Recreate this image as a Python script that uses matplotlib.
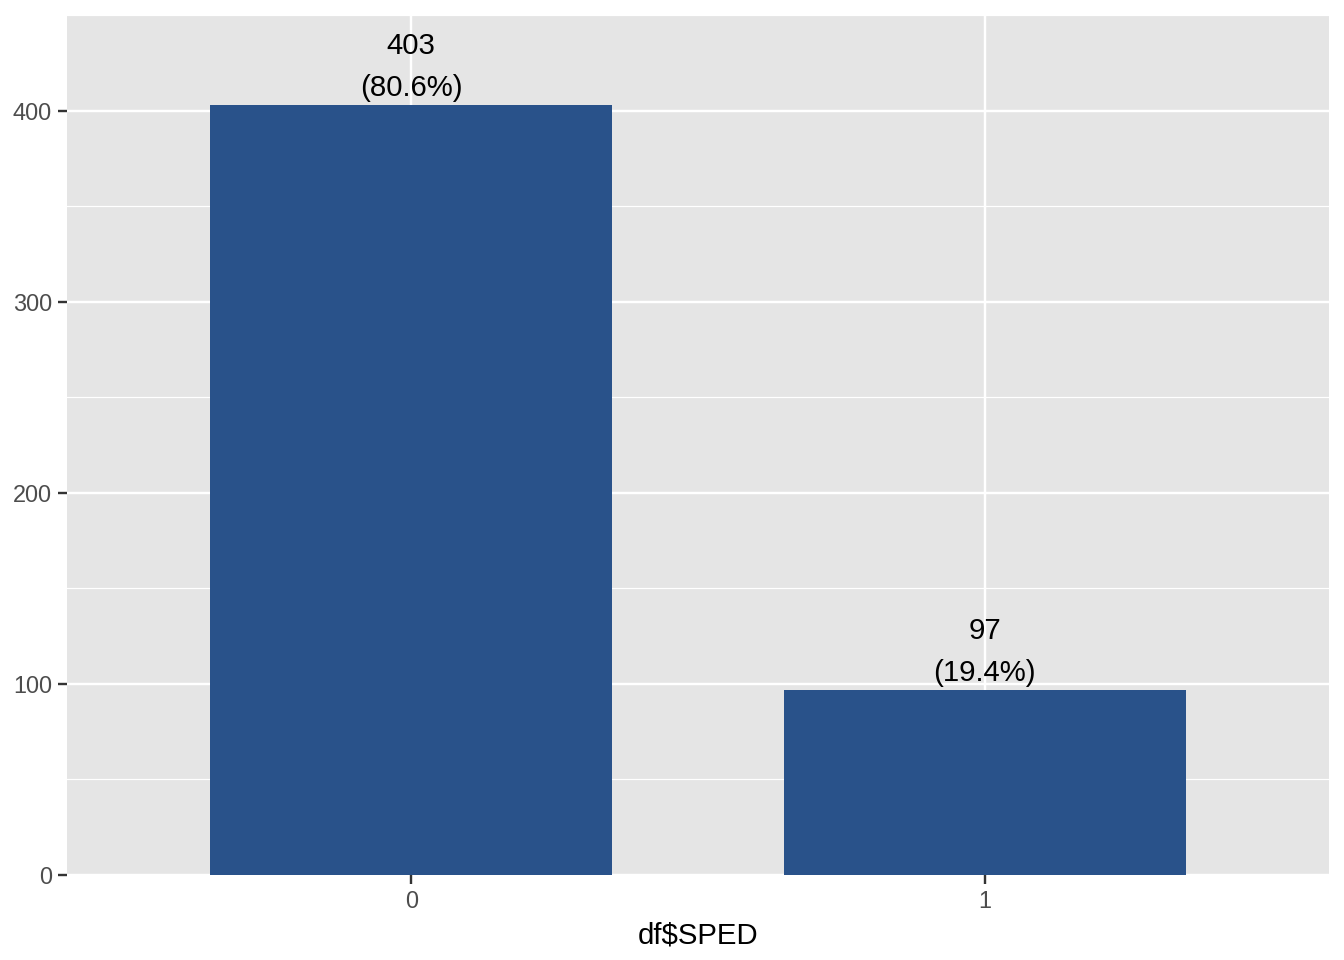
import matplotlib.pyplot as plt
from matplotlib.ticker import MultipleLocator

plt.rcParams['font.family'] = ['Liberation Sans', 'DejaVu Sans']

categories = ['0', '1']
counts = [403, 97]
labels = ['403\n(80.6%)', '97\n(19.4%)']

fig = plt.figure(figsize=(7, 5), dpi=192)
ax = fig.add_axes([67/1344, 1-875/960, (1329-67)/1344, (875-15)/960])
ax.set_facecolor('#E5E5E5')

x = range(len(categories))
ax.bar(x, counts, width=0.7, color='#29528A', zorder=3)

for xi, c, lab in zip(x, counts, labels):
    ax.annotate(lab, (xi, c), xytext=(0, 1), textcoords='offset points',
                ha='center', va='bottom', fontsize=11, color='black',
                linespacing=1.65, zorder=4)

ax.set_xlim(-0.6, 1.6)
ax.set_ylim(0, 450)
ax.set_xticks(list(x))
ax.set_xticklabels(categories)
ax.yaxis.set_major_locator(MultipleLocator(100))
ax.yaxis.set_minor_locator(MultipleLocator(50))

ax.grid(which='major', color='white', linewidth=0.9, zorder=1)
ax.grid(which='minor', axis='y', color='white', linewidth=0.45, zorder=1)
ax.set_axisbelow(True)
for s in ax.spines.values():
    s.set_visible(False)

ax.tick_params(which='major', length=3.5, width=0.9, color='#333333',
               labelsize=8.8, labelcolor='#4D4D4D', pad=2.2)
ax.tick_params(which='minor', length=0)

ax.set_xlabel('df$SPED', fontsize=11, labelpad=3)

fig.savefig('out.png', dpi=192)
